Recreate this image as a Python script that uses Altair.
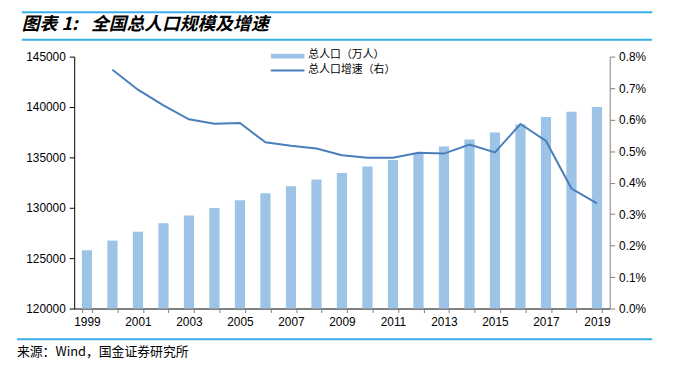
import altair as alt
import pandas as pd

years = [str(y) for y in range(1999, 2020)]
population = [125786, 126743, 127627, 128453, 129227, 129988, 130756, 131448,
              132129, 132802, 133450, 134091, 134735, 135404, 136072, 136782,
              137462, 138271, 139008, 139538, 140005]
growth = [None, 0.00758, 0.00695, 0.00645, 0.00601, 0.00587, 0.00589, 0.00528,
          0.00517, 0.00508, 0.00487, 0.00479, 0.00479, 0.00495, 0.00492, 0.00521,
          0.00496, 0.00586, 0.00532, 0.00381, 0.00334]
left_ticks = [120000, 125000, 130000, 135000, 140000, 145000]
right_ticks = [0, 0.001, 0.002, 0.003, 0.004, 0.005, 0.006, 0.007, 0.008]

title_head = "图表 1:"
title_text = "全国总人口规模及增速"
source_text = "来源：Wind，国金证券研究所"
legend_bar = "总人口（万人）"
legend_line = "总人口增速（右）"

df = pd.DataFrame({"year": years, "pop": population, "growth": growth})

W, H = 542, 255
BAR = "#9DC3E6"
LINE = "#4A7EBB"
DECO = "#3BB0E6"
FONT = "Liberation Sans"
CJK = "Noto Sans CJK SC"

xscale = alt.Scale(paddingInner=0.6, paddingOuter=0.3)
x_axis = alt.Axis(title=None, labelAngle=0,
                  labelExpr="toNumber(datum.value) % 2 == 1 ? datum.value : ''",
                  tickBand="extent", domainColor="#808080", domainWidth=2,
                  tickColor="#808080", tickSize=4, labelFont=FONT, labelFontSize=12,
                  labelColor="#000", labelPadding=4, labelOverlap=False)

bars = alt.Chart(df).mark_bar(color=BAR).encode(
    x=alt.X("year:O", scale=xscale, axis=x_axis),
    y=alt.Y("pop:Q", scale=alt.Scale(domain=[120000, 145000], zero=False, nice=False),
            axis=alt.Axis(values=left_ticks, format="d", title=None, orient="left",
                          grid=False, domainColor="#000", tickColor="#000", tickSize=5,
                          labelFont=FONT, labelFontSize=12, labelColor="#000",
                          labelPadding=4)),
    y2=alt.datum(120000),
)

line = alt.Chart(df).transform_filter("isValid(datum.growth)").mark_line(
    color=LINE, strokeWidth=2).encode(
    x=alt.X("year:O", scale=xscale, axis=x_axis),
    y=alt.Y("growth:Q", scale=alt.Scale(domain=[0, 0.008], nice=False),
            axis=alt.Axis(values=right_ticks, format=".1%", title=None, orient="right",
                          grid=False, domainColor="#808080", tickColor="#808080",
                          tickSize=5, labelFont=FONT, labelFontSize=12,
                          labelColor="#000", labelPadding=4)),
)

one = pd.DataFrame({"a": [0]})

def rule(x1, x2, y, color, w):
    return alt.Chart(one).mark_rule(color=color, strokeWidth=w).encode(
        x=alt.value(x1), x2=alt.value(x2), y=alt.value(y))

def text(t, x, y, size, color="#000", weight="normal", style="normal", font=CJK):
    return alt.Chart(pd.DataFrame({"t": [t]})).mark_text(
        align="left", baseline="middle", fontSize=size, font=font,
        fontWeight=weight, fontStyle=style, color=color).encode(
        x=alt.value(x), y=alt.value(y), text="t:N")

leg_rect = alt.Chart(one).mark_rect(color=BAR).encode(
    x=alt.value(199), x2=alt.value(233), y=alt.value(-3), y2=alt.value(2))
leg_line = rule(199, 233, 14, LINE, 2)

deco = [
    rule(-53, 585, -45, DECO, 2),
    rule(-53, 585, -17, DECO, 2),
    rule(-58, 585, 286, DECO, 2),
    text(title_head, -53, -32, 18, weight="bold", style="italic"),
    text(title_text, 17, -32, 18, weight="bold", style="italic"),
    text(source_text, -58, 299, 13),
    leg_rect, leg_line,
    text(legend_bar, 237, -2, 11),
    text(legend_line, 237, 14, 11),
]

chart = alt.layer(bars, line, *deco).resolve_scale(y="independent").properties(
    width=W, height=H,
    autosize=alt.AutoSizeParams(type="none"),
    padding={"left": 67, "top": 47, "right": 60, "bottom": 61},
).configure_view(stroke=None)

chart.save("out.html", embed_options={"renderer": "svg", "actions": False})
